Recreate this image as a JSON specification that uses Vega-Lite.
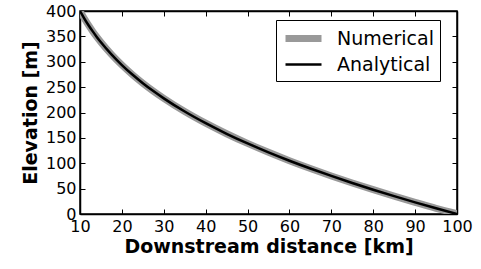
{
  "$schema": "https://vega.github.io/schema/vega-lite/v6.json",
  "width": 377,
  "height": 203,
  "autosize": {"type": "none"},
  "padding": {"left": 80, "top": 11, "right": 24, "bottom": 55},
  "background": "white",
  "config": {
    "font": "DejaVu Sans",
    "view": {"stroke": "black", "strokeWidth": 1.5},
    "axis": {
      "grid": false,
      "domainColor": "black",
      "domainWidth": 1.5,
      "tickColor": "black",
      "tickWidth": 1,
      "labelColor": "black",
      "titleColor": "black",
      "labelFont": "DejaVu Sans",
      "titleFont": "DejaVu Sans",
      "labelFontSize": 16,
      "titleFontSize": 19,
      "titleFontWeight": "bold"
    },
    "legend": {
      "title": null,
      "symbolType": "M-2,0H2",
      "symbolSize": 324,
      "symbolOffset": 9,
      "labelFontSize": 19,
      "labelFont": "DejaVu Sans",
      "labelColor": "black",
      "labelOffset": 21,
      "rowPadding": 1,
      "strokeColor": "black",
      "fillColor": "white",
      "padding": 6,
      "cornerRadius": 0
    }
  },
  "data": {
    "values": [
      {"distance": 10, "Numerical": 400, "Analytical": 400},
      {"distance": 11, "Numerical": 385.6, "Analytical": 385.6},
      {"distance": 12, "Numerical": 372.5, "Analytical": 372.5},
      {"distance": 13, "Numerical": 360.3, "Analytical": 360.3},
      {"distance": 14, "Numerical": 349.0, "Analytical": 349.0},
      {"distance": 15, "Numerical": 338.4, "Analytical": 338.4},
      {"distance": 17.5, "Numerical": 314.5, "Analytical": 314.5},
      {"distance": 20, "Numerical": 293.5, "Analytical": 293.5},
      {"distance": 22.5, "Numerical": 274.8, "Analytical": 274.8},
      {"distance": 25, "Numerical": 257.8, "Analytical": 257.8},
      {"distance": 27.5, "Numerical": 242.2, "Analytical": 242.2},
      {"distance": 30, "Numerical": 227.9, "Analytical": 227.9},
      {"distance": 35, "Numerical": 201.9, "Analytical": 201.9},
      {"distance": 40, "Numerical": 178.9, "Analytical": 178.9},
      {"distance": 45, "Numerical": 158.1, "Analytical": 158.1},
      {"distance": 50, "Numerical": 139.1, "Analytical": 139.1},
      {"distance": 55, "Numerical": 121.5, "Analytical": 121.5},
      {"distance": 60, "Numerical": 105.0, "Analytical": 105.0},
      {"distance": 65, "Numerical": 89.6, "Analytical": 89.6},
      {"distance": 70, "Numerical": 75.0, "Analytical": 75.0},
      {"distance": 75, "Numerical": 61.1, "Analytical": 61.1},
      {"distance": 80, "Numerical": 47.9, "Analytical": 47.9},
      {"distance": 85, "Numerical": 35.2, "Analytical": 35.2},
      {"distance": 90, "Numerical": 23.0, "Analytical": 23.0},
      {"distance": 95, "Numerical": 11.2, "Analytical": 11.2},
      {"distance": 100, "Numerical": 1, "Analytical": 0}
    ]
  },
  "transform": [
    {"fold": ["Numerical", "Analytical"], "as": ["series", "elevation"]}
  ],
  "layer": [
    {
      "transform": [{"filter": "datum.series === 'Numerical'"}],
      "mark": {"type": "line", "interpolate": "monotone", "clip": true},
      "encoding": {
        "x": {
          "field": "distance", "type": "quantitative",
          "scale": {"domain": [10, 100], "nice": false},
          "axis": {"title": "Downstream distance [km]", "values": [10,20,30,40,50,60,70,80,90,100], "tickSize": -5, "labelPadding": 9, "titlePadding": 3, "labelFlush": false, "labelOverlap": false}
        },
        "y": {
          "field": "elevation", "type": "quantitative",
          "scale": {"domain": [0, 400], "nice": false},
          "axis": {"title": "Elevation [m]", "values": [0,50,100,150,200,250,300,350,400], "tickSize": -5, "labelPadding": 9, "titlePadding": 5, "labelFlush": false, "labelOverlap": false}
        },
        "color": {
          "field": "series", "type": "nominal",
          "scale": {"domain": ["Numerical", "Analytical"], "range": ["#999999", "#000000"]},
          "legend": {"orient": "none", "legendX": 196, "legendY": 9}
        },
        "strokeWidth": {
          "field": "series", "type": "nominal",
          "scale": {"domain": ["Numerical", "Analytical"], "range": [7, 2.5]},
          "legend": {"orient": "none", "legendX": 196, "legendY": 9}
        }
      }
    },
    {
      "transform": [{"filter": "datum.series === 'Analytical'"}],
      "mark": {"type": "line", "interpolate": "monotone", "clip": true},
      "encoding": {
        "x": {
          "field": "distance", "type": "quantitative",
          "axis": {"orient": "top", "title": null, "labels": false, "values": [10,20,30,40,50,60,70,80,90,100], "tickSize": -5}
        },
        "y": {
          "field": "elevation", "type": "quantitative",
          "axis": {"orient": "right", "title": null, "labels": false, "values": [0,50,100,150,200,250,300,350,400], "tickSize": -5}
        },
        "color": {"field": "series", "type": "nominal"},
        "strokeWidth": {"field": "series", "type": "nominal"}
      }
    }
  ],
  "resolve": {"axis": {"x": "independent", "y": "independent"}}
}
